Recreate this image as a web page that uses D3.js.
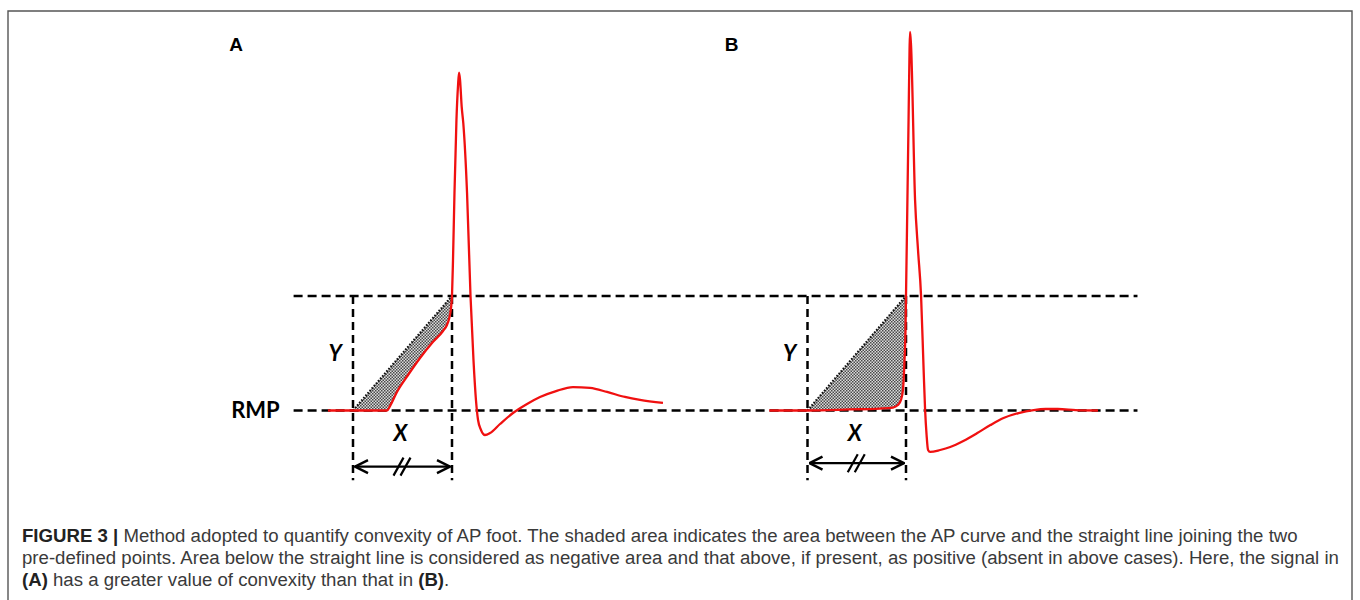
<!DOCTYPE html>
<html><head><meta charset="utf-8">
<script src="https://cdn.jsdelivr.net/npm/d3@7"></script>
<style>html,body{margin:0;padding:0;background:#fff;}svg{display:block;}</style>
</head><body>
<svg id="c" width="1360" height="600"></svg>
<script>
// ---- data (relative units: time in X-units from foot point, voltage in Y-units above RMP) ----
const panelLabels = ["A", "B"];
const timeA = [-0.253, 0, 0.343, 0.374, 0.444, 0.556, 0.677, 0.798, 0.909, 0.949, 0.970, 0.990, 1.0, 1.010, 1.025, 1.045, 1.061, 1.071, 1.081, 1.098, 1.114, 1.152, 1.187, 1.217, 1.242, 1.263, 1.293, 1.333, 1.384, 1.485, 1.616, 1.758, 1.889, 2.051, 2.222, 2.394, 2.566, 2.747, 2.899, 3.131];
const voltA = [0, 0, 0, 0.039, 0.162, 0.310, 0.459, 0.590, 0.694, 0.747, 0.799, 0.895, 1.0, 1.31, 1.90, 2.54, 2.84, 2.95, 2.89, 2.651, 2.511, 1.900, 1.0, 0.441, 0.092, -0.083, -0.170, -0.214, -0.197, -0.118, -0.022, 0.057, 0.118, 0.170, 0.205, 0.197, 0.162, 0.118, 0.092, 0.066];
const timeB = [-0.388, 0, 0.429, 0.735, 0.867, 0.918, 0.949, 0.969, 0.985, 0.995, 1.0, 1.010, 1.026, 1.036, 1.041, 1.051, 1.092, 1.122, 1.153, 1.179, 1.194, 1.209, 1.224, 1.245, 1.347, 1.449, 1.582, 1.724, 1.857, 1.990, 2.143, 2.296, 2.418, 2.541, 2.724, 2.949];
const voltB = [0, 0, 0.009, 0.017, 0.026, 0.048, 0.092, 0.179, 0.441, 0.703, 1.0, 1.576, 2.537, 3.148, 3.306, 3.192, 1.838, 1.402, 1.0, 0.354, 0.004, -0.214, -0.345, -0.362, -0.345, -0.319, -0.266, -0.197, -0.127, -0.066, -0.022, 0.004, 0.013, 0.013, 0.004, 0];
const footStart = 0, footEnd = 1;      // two predefined points (X span)
const rmpLevel = 0, thresholdLevel = 1; // RMP and Y level
const captionLines = [
  [["FIGURE 3 | ", true], ["Method adopted to quantify convexity of AP foot. The shaded area indicates the area between the AP curve and the straight line joining the two", false]],
  [["pre-defined points. Area below the straight line is considered as negative area and that above, if present, as positive (absent in above cases). Here, the signal in", false]],
  [["(A)", true], [" has a greater value of convexity than that in ", false], ["(B)", true], [".", false]]
];

// ---- layout ----
const svg = d3.select("#c");
const xA = d3.scaleLinear().domain([0, 1]).range([353, 452]);
const xB = d3.scaleLinear().domain([0, 1]).range([807.5, 906]);
const y = d3.scaleLinear().domain([0, 1]).range([410.5, 296]);

// frame
svg.append("path").attr("d", "M8,600 V11 H1352 V600").attr("fill", "none").attr("stroke", "#555").attr("stroke-width", 1.4);

// stipple pattern
const defs = svg.append("defs");
const pat = defs.append("pattern").attr("id", "stip").attr("patternUnits", "userSpaceOnUse").attr("width", 3).attr("height", 3);
pat.append("rect").attr("width", 3).attr("height", 3).attr("fill", "#dcdcdc");
pat.append("rect").attr("width", 1.5).attr("height", 1.5).attr("fill", "#4a4a4a");
pat.append("rect").attr("x", 1.5).attr("y", 1.5).attr("width", 1.5).attr("height", 1.5).attr("fill", "#4a4a4a");

const mk = defs.append("marker").attr("id", "ah").attr("viewBox", "0 0 16 16").attr("refX", 15).attr("refY", 8)
  .attr("markerWidth", 16).attr("markerHeight", 16).attr("markerUnits", "userSpaceOnUse").attr("orient", "auto-start-reverse");
mk.append("path").attr("d", "M2,1.5 L15,8 L2,14.5").attr("fill", "none").attr("stroke", "#000").attr("stroke-width", 2.4).attr("stroke-linejoin", "miter");

const dash = "9 5";
// horizontal dashed lines spanning both panels
[thresholdLevel, rmpLevel].forEach(lv => {
  svg.append("line").attr("x1", xA(-0.6)).attr("x2", xB(3.35)).attr("y1", y(lv)).attr("y2", y(lv))
    .attr("stroke", "#000").attr("stroke-width", 2.7).attr("stroke-dasharray", dash);
});

svg.append("text").attr("x", xA(-0.74)).attr("y", y(rmpLevel)).attr("dy", "0.36em").attr("text-anchor", "end")
  .attr("font-family", "Lato, 'Open Sans', sans-serif").attr("font-weight", 700).attr("font-size", 22).text("RMP");

const panels = [
  {x: xA, t: timeA, v: voltA, label: panelLabels[0], labelU: -1.18, arrowV: -0.49},
  {x: xB, t: timeB, v: voltB, label: panelLabels[1], labelU: -0.77, arrowV: -0.46}
];

panels.forEach(p => {
  const pts = p.t.map((t, i) => [t, p.v[i]]);
  const foot = pts.filter(d => d[0] >= footStart && d[0] <= footEnd);
  // shaded area between straight line and AP curve
  svg.append("path").datum(foot)
    .attr("d", d3.area().x(d => p.x(d[0])).y0(d => y(d[1]))
      .y1(d => y(rmpLevel + (thresholdLevel - rmpLevel) * (d[0] - footStart) / (footEnd - footStart))).curve(d3.curveMonotoneX))
    .attr("fill", "url(#stip)");
  // dotted straight line
  svg.append("line").attr("x1", p.x(footStart)).attr("y1", y(rmpLevel)).attr("x2", p.x(footEnd)).attr("y2", y(thresholdLevel))
    .attr("stroke", "#111").attr("stroke-width", 2.2).attr("stroke-dasharray", "1.6 1.6");
  // vertical dashed lines
  [footStart, footEnd].forEach(t => {
    svg.append("line").attr("x1", p.x(t)).attr("x2", p.x(t)).attr("y1", y(thresholdLevel)).attr("y2", y(-0.61))
      .attr("stroke", "#000").attr("stroke-width", 2.5).attr("stroke-dasharray", "8 5");
  });
  // AP curve
  svg.append("path").datum(pts)
    .attr("d", d3.line().x(d => p.x(d[0])).y(d => y(d[1])).curve(d3.curveMonotoneX))
    .attr("fill", "none").attr("stroke", "#f01010").attr("stroke-width", 2.3).attr("stroke-linejoin", "round");
  // double arrow
  const ay = y(p.arrowV);
  svg.append("line").attr("x1", p.x(footStart) + 2).attr("x2", p.x(footEnd) - 2).attr("y1", ay).attr("y2", ay)
    .attr("stroke", "#000").attr("stroke-width", 2.4).attr("marker-start", "url(#ah)").attr("marker-end", "url(#ah)");
  const mx = p.x((footStart + footEnd) / 2);
  [-4, 3].forEach(o => {
    svg.append("line").attr("x1", mx + o - 5).attr("y1", ay + 9).attr("x2", mx + o + 5).attr("y2", ay - 9)
      .attr("stroke", "#000").attr("stroke-width", 2.2);
  });
  // labels
  svg.append("text").attr("x", p.x(-0.18)).attr("y", y(0.5)).attr("dy", "0.36em").attr("text-anchor", "middle")
    .attr("font-family", "Lato, sans-serif").attr("font-weight", 700).attr("font-style", "italic").attr("font-size", 22).text("Y");
  svg.append("text").attr("x", p.x(0.48)).attr("y", y(-0.2)).attr("dy", "0.36em").attr("text-anchor", "middle")
    .attr("font-family", "Lato, sans-serif").attr("font-weight", 700).attr("font-style", "italic").attr("font-size", 22).text("X");
  svg.append("text").attr("x", p.x(p.labelU)).attr("y", 51).attr("text-anchor", "middle")
    .attr("font-family", "'Liberation Sans', Arial, sans-serif").attr("font-weight", 700).attr("font-size", 19).text(p.label);
});

// caption
const baselines = [542, 564, 586];
const cap = svg.append("g").attr("font-family", "'Liberation Sans', Arial, Helvetica, sans-serif").attr("fill", "#333");
const texts = captionLines.map((segs, i) => {
  const t = cap.append("text").attr("x", 22).attr("y", baselines[i]).attr("font-size", 16);
  segs.forEach(s => t.append("tspan").attr("font-weight", s[1] ? 700 : 400).attr("fill", s[1] ? "#222" : "#3a3a3a").text(s[0]));
  return t;
});
const w2 = texts[1].node().getComputedTextLength();
const fs = 16 * 1318 / w2;
texts.forEach(t => t.attr("font-size", fs));
</script>
</body></html>
